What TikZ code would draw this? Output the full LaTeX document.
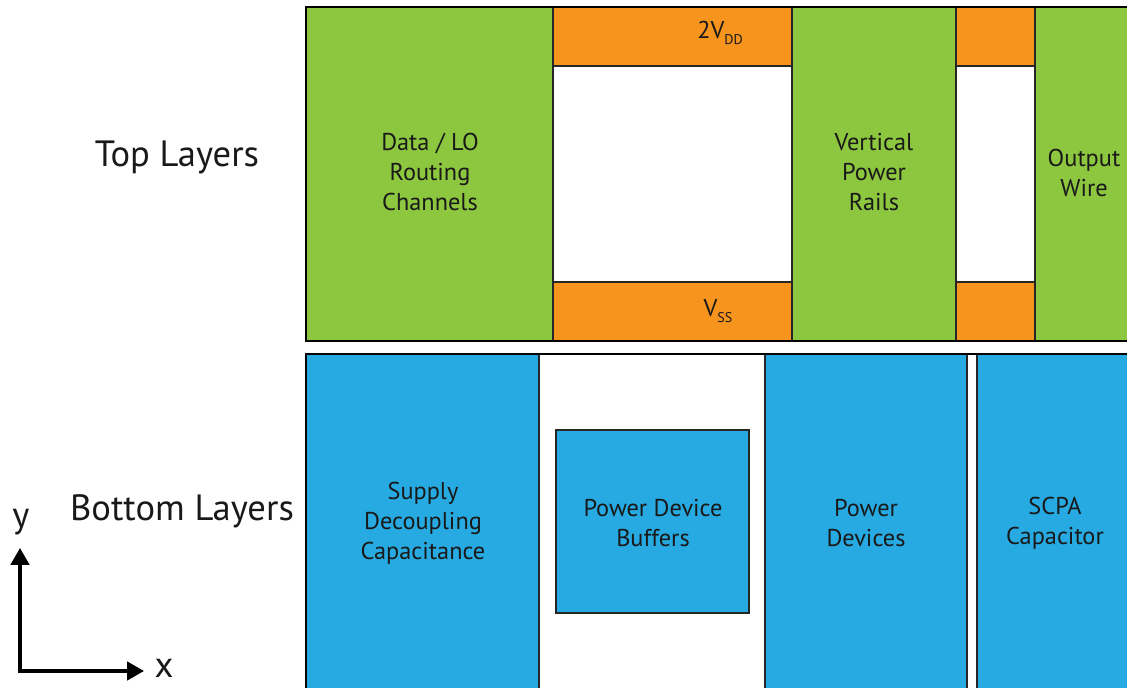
\documentclass[tikz,border=0pt]{standalone}
\usepackage{fontspec}
\setmainfont{PT Sans}
\usetikzlibrary{arrows.meta}

\definecolor{routegreen}{HTML}{8DC63F}
\definecolor{railorange}{HTML}{F7941E}
\definecolor{devblue}{HTML}{27AAE1}

\newcommand{\railsub}[1]{\raisebox{-0.5ex}{\fontsize{10}{10}\selectfont #1}}

\begin{document}
\begin{tikzpicture}[x=0.025cm, y=-0.025cm,
    blk/.style={draw=black!85, line width=1.3pt},
    lbl/.style={font=\fontsize{17.3}{21.3}\selectfont, align=center, text=black!90},
    side/.style={font=\fontsize{26}{30}\selectfont, text=black!90},
]
\useasboundingbox (0,0) rectangle (1127,688);
\clip (0,0) rectangle (1127,688);

% top layers
\draw[blk, fill=routegreen] (306,7) rectangle (553,341);
\draw[blk, fill=railorange] (553,7) rectangle (792,66);
\draw[blk, fill=white] (553,66) rectangle (792,282);
\draw[blk, fill=railorange] (553,282) rectangle (792,341);
\draw[blk, fill=routegreen] (792,7) rectangle (956,341);
\draw[blk, fill=railorange] (956,7) rectangle (1035,66);
\draw[blk, fill=white] (956,66) rectangle (1035,282);
\draw[blk, fill=railorange] (956,282) rectangle (1035,341);
\draw[blk, fill=routegreen] (1035,7) rectangle (1140,341);
\draw[line width=1.8pt] (1140,7) -- (306,7) -- (306,341) -- (1140,341);

\node[lbl] (data) at (430,172) {Data / LO\\Routing\\Channels};
\node[lbl] (rails) at (874,172) {Vertical\\Power\\Rails};
\node[lbl] (vdd) at (720,33) {2V\railsub{DD}};
\node[lbl] (vss) at (718,311) {V\railsub{SS}};
\node[lbl] (out) at (1084,173) {Output\\Wire};

% bottom layers
\draw[blk, fill=white] (306,354) rectangle (1140,689);
\draw[blk, fill=devblue] (306,354) rectangle (539,689);
\draw[blk, fill=devblue] (556,430) rectangle (749,613);
\draw[blk, fill=devblue] (765,354) rectangle (967,689);
\draw[blk, fill=devblue] (977,354) rectangle (1140,689);
\draw[line width=1.8pt] (1140,354) -- (306,354) -- (306,700);

\node[lbl] (decap) at (423,523) {Supply\\Decoupling\\Capacitance};
\node[lbl] (buf) at (653,523) {Power Device\\Buffers};
\node[lbl] (pdev) at (866,523) {Power\\Devices};
\node[lbl] (scpa) at (1055,523) {SCPA\\Capacitor};

\node[side] (top) at (177,157) {Top Layers};
\node[side] (bot) at (182,511) {Bottom Layers};

% axes
\coordinate (o) at (20,671);
\coordinate (ytip) at (20,548);
\coordinate (xtip) at (144,671);
\draw[line width=2.6pt, {Triangle[length=12pt, width=13pt]}-{Triangle[length=12pt, width=13pt]}] (ytip) -- (o) -- (xtip);
\node[side] (ylab) at (21,522) {y};
\node[side] (xlab) at (164,668) {x};
\end{tikzpicture}
\end{document}
